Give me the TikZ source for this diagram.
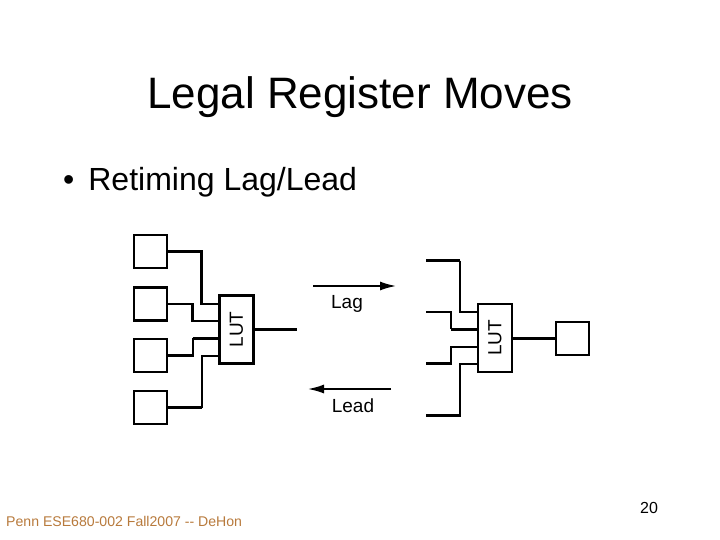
\documentclass[tikz,border=0pt]{standalone}
\usepackage{fontspec}
\setmainfont{Liberation Sans}
\usetikzlibrary{arrows.meta}
\definecolor{footbrown}{HTML}{B87A3C}
\tikzset{
  >=Latex,
  title/.style={font=\fontsize{44}{48}\selectfont, text=black, anchor=base},
  bullet/.style={font=\fontsize{32}{36}\selectfont, text=black, anchor=base west, inner sep=0pt},
  footer/.style={font=\fontsize{14.1}{16}\selectfont, text=footbrown, anchor=base west, inner sep=0pt},
  pageno/.style={font=\fontsize{16}{18}\selectfont, text=black, anchor=base, inner sep=0pt},
  reg/.style={rectangle, draw=black, line width=2.6pt, minimum width=33pt, minimum height=33pt, inner sep=0pt},
  lut/.style={rectangle, draw=black, line width=2.2pt, minimum width=34pt, minimum height=68pt, inner sep=0pt,
    font=\fontsize{19}{20}\selectfont},
  wire/.style={draw=black, line width=2.2pt},
  thickwire/.style={draw=black, line width=3pt},
  arrow/.style={-{Latex[length=17pt,width=9pt]}, draw=black, line width=2.6pt},
  movelabel/.style={font=\fontsize{19}{20}\selectfont, text=black, anchor=base, inner sep=0pt}
}
\begin{document}
\begin{tikzpicture}[x=1pt,y=-1pt]
\useasboundingbox (0,0) rectangle (720,540);
\fill[white] (0,0) rectangle (720,540);
\node[title] (head) at (360,109) {Legal Register Moves};
\node[bullet] (point) at (63,191) {•\hspace{14pt}Retiming Lag/Lead};
\node[footer] (foot) at (6,526) {Penn ESE680-002 Fall2007 -{}- DeHon};
\node[pageno] (page) at (649,513) {20};
% left side
\node[reg] (ra) at (150.5,251.5) {};
\node[reg] (rb) at (150.5,304) {};
\node[reg] (rc) at (150.5,355.5) {};
\node[reg] (rd) at (150.5,407.5) {};
\node[lut] (lutl) at (236.5,329.5) {\rotatebox{90}{LUT}};
\coordinate (la) at (lutl.west |- 0,304);
\coordinate (lb) at (lutl.west |- 0,321);
\coordinate (lc) at (lutl.west |- 0,338);
\coordinate (ld) at (lutl.west |- 0,356);
\coordinate (bendc) at (192.7,338);
\coordinate (bendd) at (201.7,407.5);
\coordinate (lo) at (297,329);
\draw[wire] (ra.east) -| ([xshift=-17pt]la) -- (la);
\draw[wire] (rb.east) -| ([xshift=-26pt]lb) -- (lb);
\draw[wire] (rc.east) -| (bendc);
\draw[thickwire] (bendc) -- (lc);
\draw[wire] (ld) -| (bendd);
\draw[thickwire] (bendd) -- (rd.east);
\draw[thickwire] (lutl.east |- lo) -- (lo);
% arrows
\coordinate (lagl) at (313,286);
\coordinate (lagr) at (397,286);
\coordinate (leadr) at (391,389);
\coordinate (leadl) at (307,389);
\draw[arrow] (lagl) -- (lagr);
\draw[arrow] (leadr) -- (leadl);
\node[movelabel] (lag) at (347,308) {Lag};
\node[movelabel] (lead) at (353,412) {Lead};
% right side
\node[lut] (lutr) at (495,338) {\rotatebox{90}{LUT}};
\node[reg] (re) at (572.5,338.5) {};
\coordinate (sa) at (426,260.5);
\coordinate (sb) at (426,312);
\coordinate (sc) at (426,363.5);
\coordinate (sd) at (426,415.5);
\coordinate (ta) at (lutr.west |- 0,312);
\coordinate (tb) at (lutr.west |- 0,329);
\coordinate (tc) at (lutr.west |- 0,347);
\coordinate (td) at (lutr.west |- 0,364);
\draw[thickwire] (sa) -- ([xshift=-17pt]ta |- sa);
\draw[wire] ([xshift=-17pt]ta |- sa) |- (ta);
\draw[wire] (sb) -| ([xshift=-26pt]tb);
\draw[thickwire] ([xshift=-26pt]tb) -- (tb);
\draw[wire] (sc) -| ([xshift=-26pt]tc) -- (tc);
\draw[wire] (sd) -| ([xshift=-17pt]td) -- (td);
\draw[thickwire] (lutr.east |- re) -- (re.west);
\end{tikzpicture}
\end{document}
